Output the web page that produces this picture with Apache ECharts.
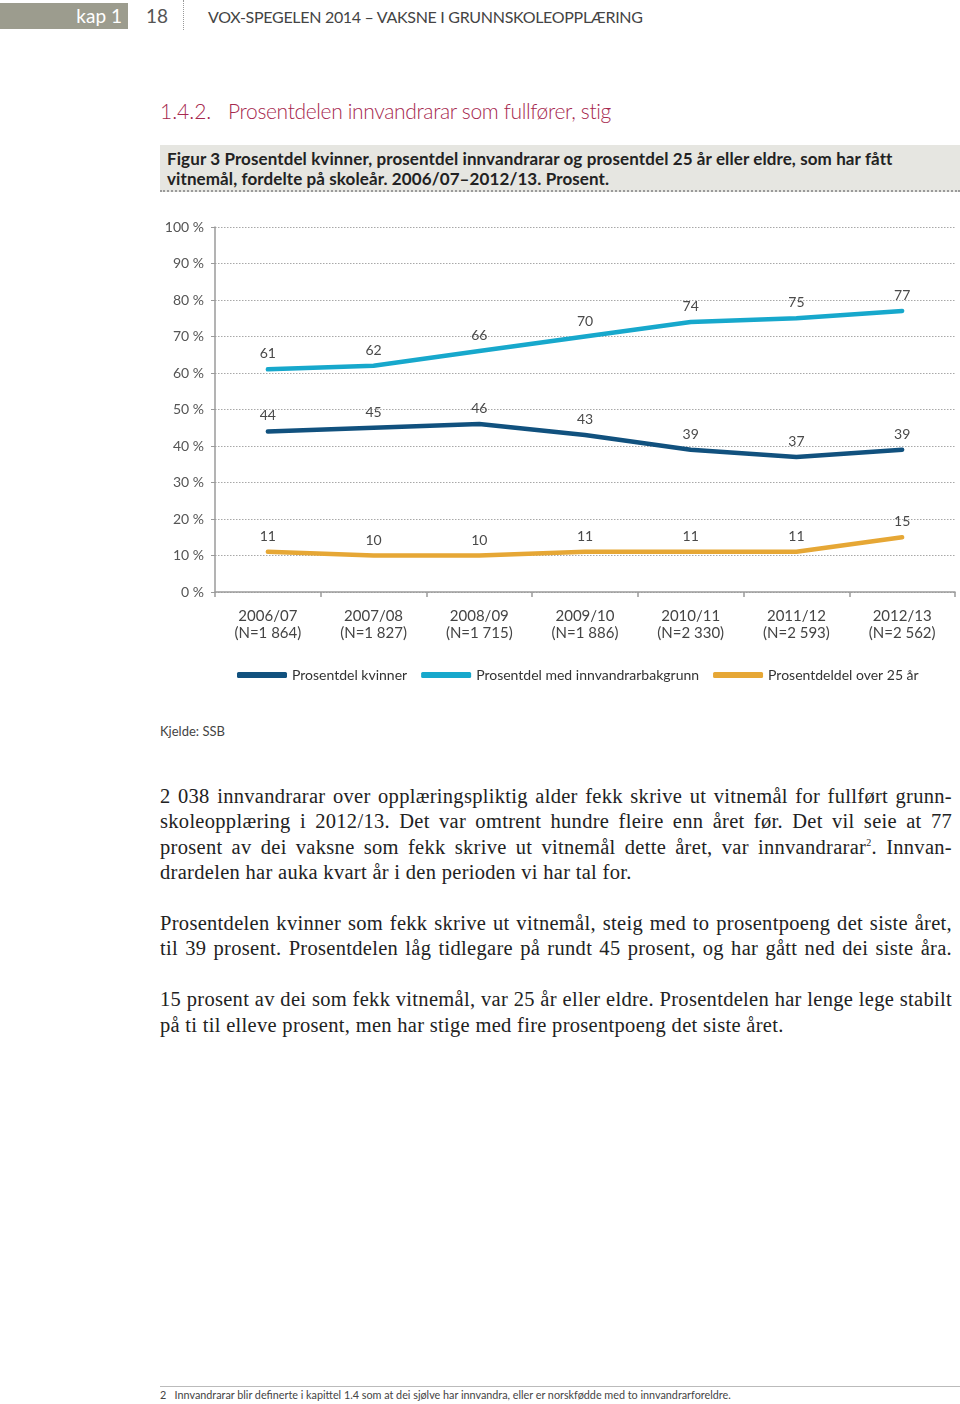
<!DOCTYPE html>
<html>
<head>
<meta charset="utf-8">
<script src="https://cdn.jsdelivr.net/npm/echarts@6/dist/echarts.min.js"></script>
<style>
  html,body{margin:0;padding:0;background:#fff;}
  #page{position:relative;width:960px;height:1404px;overflow:hidden;font-family:Lato,"Open Sans",sans-serif;}
  .abs{position:absolute;white-space:nowrap;}
  #kap{left:0;top:3px;width:128px;height:26px;background:#9c9c8e;color:#fff;font-size:19px;line-height:26px;text-align:right;box-sizing:border-box;padding-right:6px;}
  #pg{left:146px;top:3px;font-size:19px;line-height:26px;color:#555;}
  #sep{left:183px;top:0;height:30px;border-left:1px dotted #999;}
  #runtitle{left:208px;top:5px;font-size:16px;line-height:24px;color:#444;letter-spacing:-0.3px;}
  #h1a{left:160px;top:97px;font-size:21px;line-height:28px;color:#a6284e;font-weight:300;}
  #h1b{left:228px;top:97px;font-size:21px;line-height:28px;color:#a6284e;font-weight:300;letter-spacing:-0.35px;}
  #cap{left:160px;top:145px;width:800px;height:45px;background:#e6e6e1;border-bottom:2px dotted #9a9a9a;box-sizing:content-box;}
  #capt{left:167px;top:149px;font-size:17px;line-height:20px;color:#222;font-weight:bold;letter-spacing:0.1px;}
  #chart{position:absolute;left:0;top:200px;width:960px;height:500px;}
  #src{left:160px;top:722px;font-size:13px;line-height:18px;color:#444;}
  #body{position:absolute;left:160px;top:784px;width:792px;font-family:"Liberation Serif","DejaVu Serif",serif;font-size:20.5px;letter-spacing:0.3px;line-height:25.4px;color:#222;}
  #body .l{text-align:justify;text-align-last:justify;white-space:nowrap;}
  #body .e{text-align:left;white-space:nowrap;}
  #body .gap{height:25.4px;}
  #fnline{left:160px;top:1386px;width:800px;border-top:1px solid #bbb;}
  #fn{left:160px;top:1388px;font-size:10.8px;line-height:14px;color:#444;}
</style>
</head>
<body>
<div id="page">
  <div id="kap" class="abs">kap 1</div>
  <div id="pg" class="abs">18</div>
  <div id="sep" class="abs"></div>
  <div id="runtitle" class="abs">VOX-SPEGELEN 2014 – VAKSNE I GRUNNSKOLEOPPLÆRING</div>
  <div id="h1a" class="abs">1.4.2.</div>
  <div id="h1b" class="abs">Prosentdelen innvandrarar som fullfører, stig</div>
  <div id="cap" class="abs"></div>
  <div id="capt" class="abs">Figur 3 Prosentdel kvinner, prosentdel innvandrarar og prosentdel 25 år eller eldre, som har fått<br>vitnemål, fordelte på skoleår. 2006/07–2012/13. Prosent.</div>
  <div id="chart"></div>
  <div id="src" class="abs">Kjelde: SSB</div>
  <div id="body">
    <div class="l">2 038 innvandrarar over opplæringspliktig alder fekk skrive ut vitnemål for fullført grunn-</div>
    <div class="l">skoleopplæring i 2012/13. Det var omtrent hundre fleire enn året før. Det vil seie at 77</div>
    <div class="l">prosent av dei vaksne som fekk skrive ut vitnemål dette året, var innvandrarar<sup style="font-size:10px;line-height:0">2</sup>. Innvan-</div>
    <div class="e">drardelen har auka kvart år i den perioden vi har tal for.</div>
    <div class="gap"></div>
    <div class="l">Prosentdelen kvinner som fekk skrive ut vitnemål, steig med to prosentpoeng det siste året,</div>
    <div class="l">til 39 prosent. Prosentdelen låg tidlegare på rundt 45 prosent, og har gått ned dei siste åra.</div>
    <div class="gap"></div>
    <div class="l">15 prosent av dei som fekk vitnemål, var 25 år eller eldre. Prosentdelen har lenge lege stabilt</div>
    <div class="e">på ti til elleve prosent, men har stige med fire prosentpoeng det siste året.</div>
  </div>
  <div id="fnline" class="abs"></div>
  <div id="fn" class="abs">2&nbsp;&nbsp;&nbsp;Innvandrarar blir definerte i kapittel 1.4 som at dei sjølve har innvandra, eller er norskfødde med to innvandrarforeldre.</div>
</div>
<script>
var categories = ['2006/07', '2007/08', '2008/09', '2009/10', '2010/11', '2011/12', '2012/13'];
var nLabels = ['(N=1 864)', '(N=1 827)', '(N=1 715)', '(N=1 886)', '(N=2 330)', '(N=2 593)', '(N=2 562)'];
var seriesNames = ['Prosentdel kvinner', 'Prosentdel med innvandrarbakgrunn', 'Prosentdeldel over 25 år'];
var kvinner = [44, 45, 46, 43, 39, 37, 39];
var innvandrar = [61, 62, 66, 70, 74, 75, 77];
var over25 = [11, 10, 10, 11, 11, 11, 15];
var yTicks = [0, 10, 20, 30, 40, 50, 60, 70, 80, 90, 100];
var colors = ['#11517e', '#17a8cc', '#e6a735'];

var chart = echarts.init(document.getElementById('chart'), null, {renderer: 'canvas'});
var font = 'Lato, "Open Sans", sans-serif';
function mk(name, data, color) {
  return {
    name: name, type: 'line', data: data,
    symbol: 'circle', symbolSize: 1,
    itemStyle: {color: color},
    lineStyle: {width: 4.5, color: color, cap: 'round', join: 'round'},
    label: {show: true, position: 'top', distance: 8, color: '#4a4a4a', fontSize: 14, fontFamily: font},
    emphasis: {disabled: true},
    animation: false
  };
}
chart.setOption({
  animation: false,
  color: colors,
  grid: {left: 215, right: 5, top: 27, bottom: 108, containLabel: false},
  legend: {
    left: 232, top: 463,
    itemWidth: 50, itemHeight: 6, itemGap: 14,
    icon: 'roundRect',
    textStyle: {color: '#333', fontSize: 14, fontFamily: font},
    data: seriesNames
  },
  xAxis: {
    type: 'category', data: categories, boundaryGap: true,
    axisLine: {lineStyle: {color: '#9a9a9a', width: 1.5}},
    axisTick: {show: true, length: 5, lineStyle: {color: '#9a9a9a', width: 1.5}},
    axisLabel: {
      color: '#444', fontSize: 15, fontFamily: font, lineHeight: 17, margin: 16,
      formatter: function (v, i) { return v + '\n' + nLabels[i]; }
    }
  },
  yAxis: {
    type: 'value', min: 0, max: 100, interval: 10,
    axisLine: {show: true, lineStyle: {color: '#9a9a9a', width: 1.5}},
    axisTick: {show: true, length: 4, lineStyle: {color: '#9a9a9a'}},
    splitLine: {show: true, lineStyle: {color: '#a8a8a8', type: [1.5, 1.5], width: 1}},
    axisLabel: {
      color: '#555', fontSize: 14, fontFamily: font, margin: 11,
      formatter: function (v) { return yTicks.indexOf(v) >= 0 ? v + ' %' : ''; }
    }
  },
  series: [mk(seriesNames[0], kvinner, colors[0]), mk(seriesNames[1], innvandrar, colors[1]), mk(seriesNames[2], over25, colors[2])]
});
</script>
</body>
</html>
